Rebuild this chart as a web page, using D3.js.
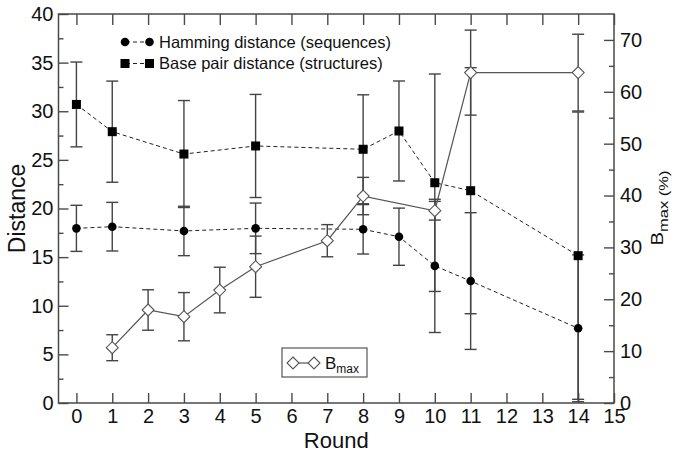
<!DOCTYPE html>
<html>
<head>
<meta charset="utf-8" />
<title>rounds</title>
<script src="https://cdn.jsdelivr.net/npm/d3@7"></script>
<style>
  body { margin: 0; background: #fff; }
  text { font-family: "Liberation Sans", Arial, sans-serif; fill: #111; }
</style>
</head>
<body>
<svg width="686" height="455"></svg>
<script>
// data
var roundsD = [0, 1, 3, 5, 8, 9, 10, 11, 14];
var hamming = [17.96, 18.13, 17.69, 17.96, 17.86, 17.1, 14.1, 12.54, 7.68];
var hammingErr = [2.37, 2.5, 2.54, 2.6, 2.54, 2.94, 6.85, 7.03, 7.55];
var basePair = [30.7, 27.9, 25.6, 26.43, 26.09, 27.97, 22.65, 21.83, 15.15];
var basePairErr = [4.36, 5.2, 5.5, 5.3, 5.6, 5.14, 11.18, 12.65, 14.77];

var roundsB = [1, 2, 3, 4, 5, 7, 8, 10, 11, 14];
var bmax = [10.66, 17.93, 16.64, 21.78, 26.28, 31.29, 39.9, 37.07, 63.7, 63.7];
var bmaxErr = [2.5, 3.9, 4.65, 4.4, 5.9, 3.1, 3.6, 1.8, 8.2, 7.4];

var xTicks = d3.range(0, 16);
var leftTicks = d3.range(0, 41, 5);
var leftMinor = d3.range(2.5, 40, 5);
var rightTicks = d3.range(0, 71, 10);
var rightMinor = d3.range(5, 70, 10);

var svg = d3.select("svg");
var L = 58.5, R = 614, T = 14, B = 403;

var x = d3.scaleLinear().domain([-0.5, 15]).range([L, R]);
var yL = d3.scaleLinear().domain([0, 40]).range([B, T]);
var yR = d3.scaleLinear().domain([0, 75]).range([B, T]);

var axisColor = "#4a4a4a";

function styleAxis(g) {
  g.select(".domain").remove();
  g.selectAll(".tick line").attr("stroke", axisColor).attr("stroke-width", 1.4);
  g.selectAll(".tick text").attr("font-size", 20).attr("fill", "#111")
    .style("font-family", "'Liberation Sans', Arial, sans-serif");
}

// axes, ticks point inward
svg.append("g").attr("transform", "translate(0," + B + ")")
  .call(d3.axisBottom(x).tickValues(xTicks).tickSize(-10).tickPadding(6))
  .call(styleAxis);
svg.append("g").attr("transform", "translate(0," + T + ")")
  .call(d3.axisTop(x).tickValues(xTicks).tickSize(-11).tickFormat(""))
  .call(styleAxis);
svg.append("g").attr("transform", "translate(" + L + ",0)")
  .call(d3.axisLeft(yL).tickValues(leftTicks).tickSize(-10).tickPadding(5))
  .call(styleAxis);
svg.append("g").attr("transform", "translate(" + L + ",0)")
  .call(d3.axisLeft(yL).tickValues(leftMinor).tickSize(-5).tickFormat(""))
  .call(styleAxis);
svg.append("g").attr("transform", "translate(" + R + ",0)")
  .call(d3.axisRight(yR).tickValues(rightTicks).tickSize(-10).tickPadding(6))
  .call(styleAxis);
svg.append("g").attr("transform", "translate(" + R + ",0)")
  .call(d3.axisRight(yR).tickValues(rightMinor).tickSize(-5).tickFormat(""))
  .call(styleAxis);

svg.append("rect")
  .attr("x", L).attr("y", T).attr("width", R - L).attr("height", B - T)
  .attr("fill", "none").attr("stroke", axisColor).attr("stroke-width", 1.5);

// axis titles
svg.append("text").attr("x", (L + R) / 2).attr("y", 448)
  .attr("text-anchor", "middle").attr("font-size", 22).text("Round");
svg.append("text").attr("transform", "translate(25," + (T + B) / 2 + ") rotate(-90)")
  .attr("text-anchor", "middle").attr("font-size", 23).text("Distance");
var rt = svg.append("text").attr("transform", "translate(663,208) rotate(-90)")
  .attr("text-anchor", "middle").attr("font-size", 16)
  .attr("textLength", 75).attr("lengthAdjust", "spacingAndGlyphs");
rt.append("tspan").text("B");
rt.append("tspan").attr("font-size", 13).attr("dy", 5).text("max (%)");

// build rows
var hamRows = roundsD.map(function (r, i) { return { r: r, v: hamming[i], e: hammingErr[i] }; });
var bpRows = roundsD.map(function (r, i) { return { r: r, v: basePair[i], e: basePairErr[i] }; });
var bRows = roundsB.map(function (r, i) { return { r: r, v: bmax[i], e: bmaxErr[i] }; });

var errColor = "#444";
function errorBars(rows, y) {
  var g = svg.append("g").attr("stroke", errColor).attr("stroke-width", 1.4);
  rows.forEach(function (d) {
    var cx = x(d.r), y0 = y(d.v - d.e), y1 = y(d.v + d.e);
    g.append("line").attr("x1", cx).attr("x2", cx).attr("y1", y0).attr("y2", y1);
    g.append("line").attr("x1", cx - 6).attr("x2", cx + 6).attr("y1", y0).attr("y2", y0);
    g.append("line").attr("x1", cx - 6).attr("x2", cx + 6).attr("y1", y1).attr("y2", y1);
  });
}
errorBars(bRows, yR);
errorBars(bpRows, yL);
errorBars(hamRows, yL);

// lines
var lineL = d3.line().x(function (d) { return x(d.r); }).y(function (d) { return yL(d.v); });
var lineR = d3.line().x(function (d) { return x(d.r); }).y(function (d) { return yR(d.v); });

svg.append("path").datum(hamRows).attr("d", lineL)
  .attr("fill", "none").attr("stroke", "#222").attr("stroke-width", 1).attr("stroke-dasharray", "4,3");
svg.append("path").datum(bpRows).attr("d", lineL)
  .attr("fill", "none").attr("stroke", "#222").attr("stroke-width", 1).attr("stroke-dasharray", "4,3");
svg.append("path").datum(bRows).attr("d", lineR)
  .attr("fill", "none").attr("stroke", "#555").attr("stroke-width", 1.2);

// markers
var diamond = "M0,-6L6,0L0,6L-6,0Z";
svg.append("g").selectAll("circle").data(hamRows).enter().append("circle")
  .attr("cx", function (d) { return x(d.r); }).attr("cy", function (d) { return yL(d.v); })
  .attr("r", 4.3).attr("fill", "#000");
svg.append("g").selectAll("rect").data(bpRows).enter().append("rect")
  .attr("x", function (d) { return x(d.r) - 4.5; }).attr("y", function (d) { return yL(d.v) - 4.5; })
  .attr("width", 9).attr("height", 9).attr("fill", "#000");
svg.append("g").selectAll("path").data(bRows).enter().append("path")
  .attr("d", diamond)
  .attr("transform", function (d) { return "translate(" + x(d.r) + "," + yR(d.v) + ")"; })
  .attr("fill", "#fff").attr("stroke", "#555").attr("stroke-width", 1.1);

// legend 1
var lg = svg.append("g");
[["circle", "Hamming distance (sequences)", 42], ["square", "Base pair distance (structures)", 63.5]].forEach(function (it) {
  var yy = it[2];
  lg.append("line").attr("x1", 125).attr("x2", 149.5).attr("y1", yy).attr("y2", yy)
    .attr("stroke", "#222").attr("stroke-dasharray", "4,3").attr("stroke-dashoffset", -8);
  [125, 149.5].forEach(function (mx) {
    if (it[0] === "circle") lg.append("circle").attr("cx", mx).attr("cy", yy).attr("r", 4.3).attr("fill", "#000");
    else lg.append("rect").attr("x", mx - 4.5).attr("y", yy - 4.5).attr("width", 9).attr("height", 9).attr("fill", "#000");
  });
  lg.append("text").attr("x", 159).attr("y", yy + 5.5).attr("font-size", 16.5).text(it[1]);
});

// legend 2
var lg2 = svg.append("g");
lg2.append("rect").attr("x", 282).attr("y", 348).attr("width", 85).attr("height", 29)
  .attr("fill", "#fff").attr("stroke", "#555").attr("stroke-width", 1.2);
lg2.append("line").attr("x1", 293).attr("x2", 314).attr("y1", 363).attr("y2", 363)
  .attr("stroke", "#555").attr("stroke-width", 1.2);
[293, 314].forEach(function (mx) {
  lg2.append("path").attr("d", diamond).attr("transform", "translate(" + mx + ",363)")
    .attr("fill", "#fff").attr("stroke", "#555").attr("stroke-width", 1.1);
});
var lt = lg2.append("text").attr("x", 325).attr("y", 369).attr("font-size", 17);
lt.append("tspan").text("B");
lt.append("tspan").attr("font-size", 12).attr("dy", 4).text("max");
</script>
</body>
</html>
